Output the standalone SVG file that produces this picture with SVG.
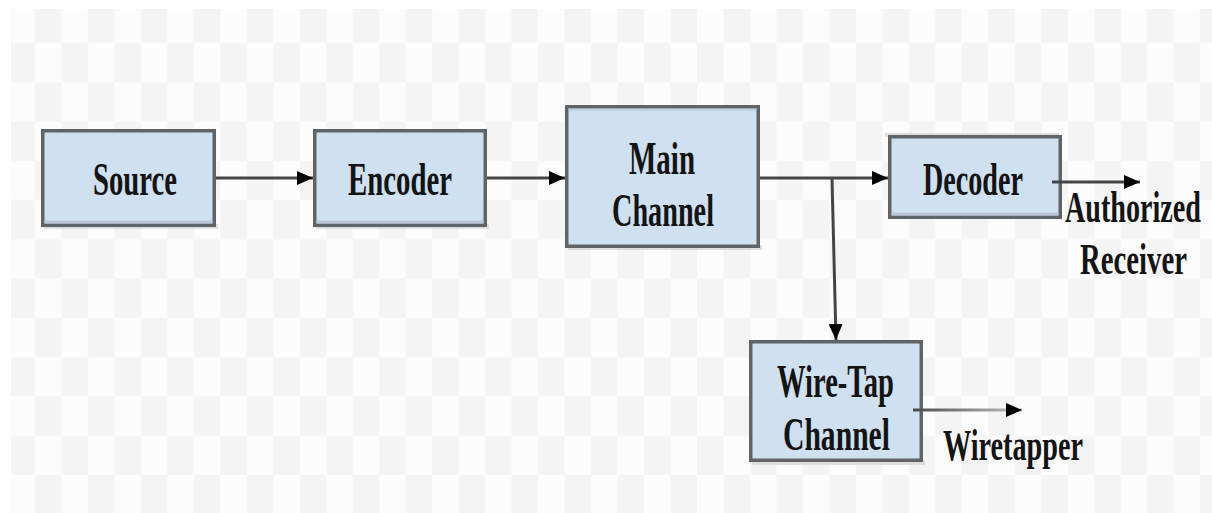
<svg xmlns="http://www.w3.org/2000/svg" width="1212" height="513" viewBox="0 0 1212 513">
  <style>
    .box { fill: #cfe0f1; stroke: #606367; stroke-width: 3.5; }
    .shade { fill: #b7c6d5; }
    .drop { fill: #d2d2d2; opacity: 0.7; }
    .wire { fill: none; stroke: #454545; stroke-width: 3; }
  </style>
  <defs>
    <!-- faint transparency grid in the backdrop -->
    <pattern id="grid" patternUnits="userSpaceOnUse" x="8.52" y="3.73" width="52.96" height="78.54">
      <rect x="0" y="0" width="52.96" height="78.54" fill="#fcfcfc"/>
      <rect x="26.48" y="0" width="26.48" height="39.27" fill="#f4f4f4"/>
      <rect x="0" y="39.27" width="26.48" height="39.27" fill="#f4f4f4"/>
    </pattern>
    <marker id="arrow" markerUnits="userSpaceOnUse" markerWidth="16" markerHeight="14" refX="16" refY="7" orient="auto">
      <path d="M0,0 L16,7 L0,14 z" fill="#000"/>
    </marker>
    <linearGradient id="fade" gradientUnits="userSpaceOnUse" x1="913" y1="0" x2="1008" y2="0">
      <stop offset="0" stop-color="#4a4a4a"/>
      <stop offset="1" stop-color="#b4b4b4"/>
    </linearGradient>
  </defs>

  <rect width="1212" height="513" fill="#ffffff"/>
  <rect x="11" y="9" width="1201" height="504" fill="url(#grid)"/>

  <!-- connectors -->
  <g id="connectors">
    <line class="wire" x1="216" y1="178" x2="313" y2="178" marker-end="url(#arrow)"/>
    <line class="wire" x1="487" y1="178" x2="565" y2="178" marker-end="url(#arrow)"/>
    <line class="wire" x1="760" y1="178" x2="888" y2="178" marker-end="url(#arrow)"/>
    <line class="wire" x1="832" y1="178" x2="836" y2="340" marker-end="url(#arrow)"/>
  </g>

  <!-- all labels share one condensed serif bold face (horizontal scale 0.63) -->
  <g font-family="'Liberation Serif', 'DejaVu Serif', serif" font-weight="bold" font-size="46" fill="#141414">
    <g id="source">
      <rect class="drop" x="44" y="224" width="174" height="5"/>
      <rect class="box" x="42.75" y="130.75" width="171.5" height="94.5"/>
      <rect class="shade" x="44.5" y="220.5" width="168" height="3"/>
      <text transform="translate(93 195) scale(0.63 1)" textLength="133.3" lengthAdjust="spacingAndGlyphs">Source</text>
    </g>

    <g id="encoder">
      <rect class="drop" x="316" y="224" width="173" height="5"/>
      <rect class="box" x="314.75" y="130.75" width="170.5" height="94.5"/>
      <rect class="shade" x="316.5" y="220.5" width="167" height="3"/>
      <text transform="translate(348 195) scale(0.63 1)" textLength="165.1" lengthAdjust="spacingAndGlyphs">Encoder</text>
    </g>

    <g id="main-channel">
      <rect class="drop" x="568" y="245" width="194" height="5"/>
      <rect class="box" x="566.75" y="106.75" width="191.5" height="139.5"/>
      <rect class="shade" x="568.5" y="108.5" width="188" height="2.5" opacity="0.6"/>
      <text transform="translate(629 174) scale(0.63 1)" textLength="104.8" lengthAdjust="spacingAndGlyphs">Main</text>
      <text transform="translate(612 226) scale(0.63 1)" textLength="161.9" lengthAdjust="spacingAndGlyphs">Channel</text>
    </g>

    <g id="decoder">
      <rect class="drop" x="885" y="133" width="174" height="4"/>
      <rect class="box" x="889.75" y="136.75" width="170.5" height="80.5"/>
      <rect class="shade" x="891.5" y="212.5" width="167" height="3"/>
      <text transform="translate(923 195) scale(0.63 1)" textLength="158.7" lengthAdjust="spacingAndGlyphs">Decoder</text>
      <line class="wire" x1="1052" y1="182" x2="1140" y2="182" marker-end="url(#arrow)"/>
    </g>

    <g id="authorized-receiver" font-size="44">
      <text transform="translate(1065 222) scale(0.63 1)" textLength="215.9" lengthAdjust="spacingAndGlyphs">Authorized</text>
      <text transform="translate(1080 274) scale(0.63 1)" textLength="169.8" lengthAdjust="spacingAndGlyphs">Receiver</text>
    </g>

    <g id="wire-tap-channel">
      <rect class="drop" x="752" y="460" width="173" height="5"/>
      <rect class="box" x="750.75" y="341.75" width="170.5" height="118.5"/>
      <text transform="translate(777 397) scale(0.63 1)" textLength="185.7" lengthAdjust="spacingAndGlyphs">Wire-Tap</text>
      <text transform="translate(783 450) scale(0.63 1)" textLength="169.8" lengthAdjust="spacingAndGlyphs">Channel</text>
      <line x1="913" y1="410" x2="1022" y2="410" stroke="url(#fade)" stroke-width="3" marker-end="url(#arrow)"/>
    </g>

    <g id="wiretapper" font-size="44">
      <text transform="translate(943 460) scale(0.63 1)" textLength="222.2" lengthAdjust="spacingAndGlyphs">Wiretapper</text>
    </g>
  </g>
</svg>
